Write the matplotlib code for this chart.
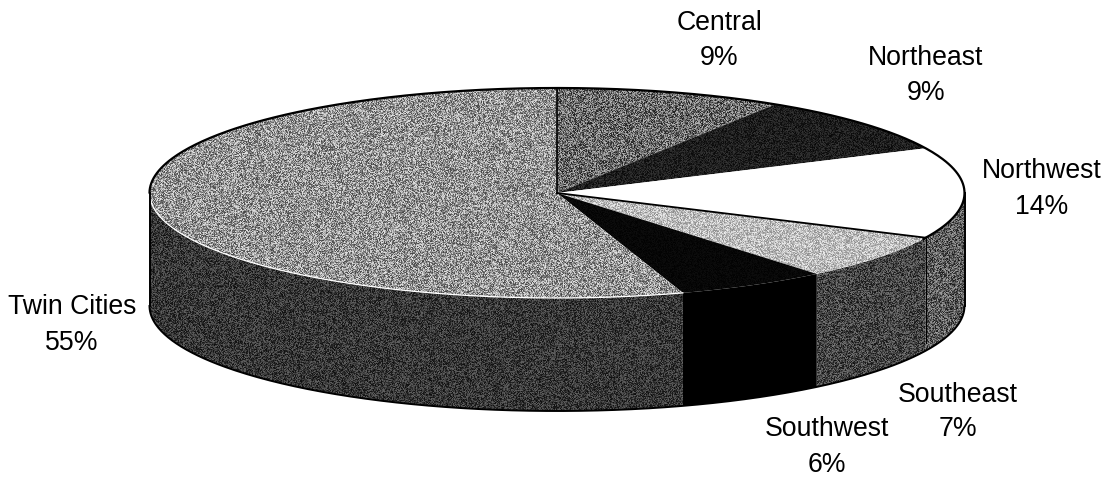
from matplotlib import pyplot as plt
from matplotlib.patches import Polygon
import numpy as np

regions = ["Central", "Northeast", "Northwest", "Southeast", "Southwest", "Twin Cities"]
shares = [9, 9, 14, 7, 6, 55]

# mean grey of the scanned shading, 0 black, 1 white
top_shade = [0.42, 0.12, 1.0, 0.74, 0.03, 0.58]
side_shade = [0.3, 0.2, 0.36, 0.27, 0.0, 0.22]

label_x = [719, 926, 1042, 958, 827, 72]
label_y = [40, 75, 189, 412, 447, 325]

cx, cy = 557, 193
rx, ry = 407.5, 105
depth = 113

plt.rcParams['font.family'] = ['Liberation Sans', 'DejaVu Sans']

fig = plt.figure(figsize=(11.10, 4.78), dpi=100)
ax = fig.add_axes([0, 0, 1, 1])

# scan grain, not data: every pixel gets an offset from a fixed formula
yy, xx = np.mgrid[0:478, 0:1110]
grain = (np.sin(xx * 12.9898 + yy * 78.233) * 43758.5453) % 1 - 0.5


def rim(a):
    a = np.radians(a)
    return cx + rx * np.sin(a), cy - ry * np.cos(a)


def shaded(points, level):
    poly = Polygon(points, closed=True, fc='none', ec='none')
    ax.add_patch(poly)
    spread = 1.5 * min(level, 1 - level)
    im = ax.imshow(level + spread * grain, cmap='gray', vmin=0, vmax=1, extent=(0, 1110, 478, 0),
                   interpolation='nearest', aspect='auto')
    im.set_clip_path(poly)


stops = np.cumsum([0] + shares) * 3.6
for i in range(len(shares)):
    a0, a1 = stops[i], stops[i + 1]
    # side wall, only the front half of the disc shows
    s0, s1 = max(a0, 90), min(a1, 270)
    if s1 > s0:
        x, y = rim(np.linspace(s0, s1, 80))
        wall = np.r_[np.c_[x, y], np.c_[x, y + depth][::-1]]
        shaded(wall, side_shade[i])
    x, y = rim(np.linspace(a0, a1, 120))
    shaded(np.r_[[[cx, cy]], np.c_[x, y]], top_shade[i])

# pale edge along the front of the top face
x, y = rim(np.linspace(stops[5], 270, 200))
ax.plot(x, y, color='white', lw=0.9)

# outlines
x, y = rim(np.linspace(-90, 116, 300))
ax.plot(x, y, color='black', lw=1.6, solid_capstyle='round')
x, y = rim(np.linspace(90, 270, 300))
ax.plot(x, y + depth, color='black', lw=1.4)
ax.plot([cx - rx, cx - rx], [cy, cy + depth], color='black', lw=1.4)
ax.plot([cx + rx, cx + rx], [cy, cy + depth], color='black', lw=1.4)
ax.plot([cx, cx], [cy, cy - ry], color='black', lw=1.2)
x, y = rim(stops[3])
ax.plot([cx, x], [cy, y], color='black', lw=1.3)
ax.plot([x, x], [y, y + depth - 8], color='black', lw=0.8)

for i in range(len(regions)):
    ax.text(label_x[i], label_y[i], f"{regions[i]}\n{shares[i]}%", ha='center', va='center',
            fontsize=19.2, linespacing=1.45, color='black')

ax.set_xlim(0, 1110)
ax.set_ylim(478, 0)
ax.axis('off')
fig.savefig('out.png', dpi=100)
